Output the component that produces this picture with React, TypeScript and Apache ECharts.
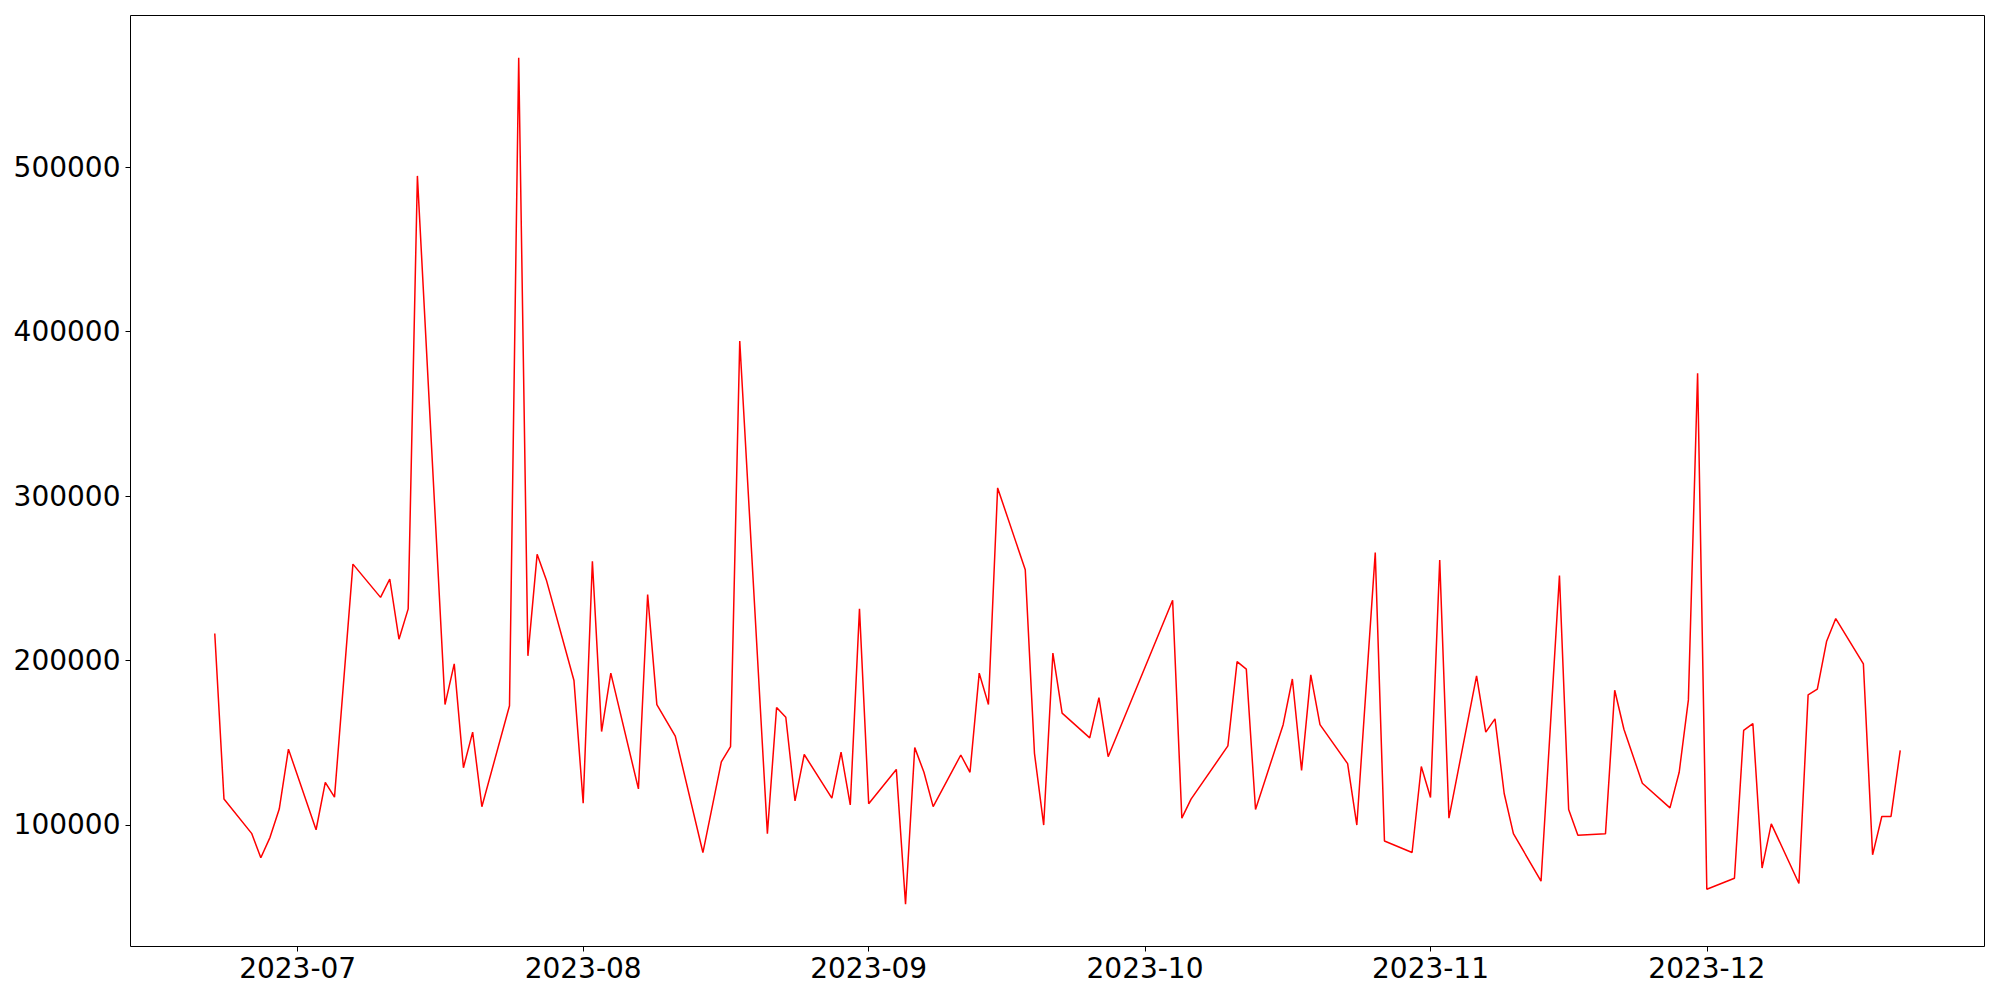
import React, { useEffect, useRef } from "react";
import * as echarts from "echarts";

const dates: string[] = [
  "2023-06-22", "2023-06-23", "2023-06-26", "2023-06-27", "2023-06-28", "2023-06-29", "2023-06-30",
  "2023-07-03", "2023-07-04", "2023-07-05", "2023-07-07",
  "2023-07-10", "2023-07-11", "2023-07-12", "2023-07-13", "2023-07-14",
  "2023-07-17", "2023-07-18", "2023-07-19", "2023-07-20", "2023-07-21",
  "2023-07-24", "2023-07-25", "2023-07-26", "2023-07-27", "2023-07-28",
  "2023-07-31", "2023-08-01", "2023-08-02", "2023-08-03", "2023-08-04",
  "2023-08-07", "2023-08-08", "2023-08-09", "2023-08-11",
  "2023-08-14", "2023-08-16", "2023-08-17", "2023-08-18",
  "2023-08-21", "2023-08-22", "2023-08-23", "2023-08-24", "2023-08-25",
  "2023-08-28", "2023-08-29", "2023-08-30", "2023-08-31", "2023-09-01",
  "2023-09-04", "2023-09-05", "2023-09-06", "2023-09-07", "2023-09-08",
  "2023-09-11", "2023-09-12", "2023-09-13", "2023-09-14", "2023-09-15",
  "2023-09-18", "2023-09-19", "2023-09-20", "2023-09-21", "2023-09-22",
  "2023-09-25", "2023-09-26", "2023-09-27",
  "2023-10-04", "2023-10-05", "2023-10-06",
  "2023-10-10", "2023-10-11", "2023-10-12", "2023-10-13",
  "2023-10-16", "2023-10-17", "2023-10-18", "2023-10-19", "2023-10-20",
  "2023-10-23", "2023-10-24", "2023-10-26", "2023-10-27",
  "2023-10-30", "2023-10-31", "2023-11-01", "2023-11-02", "2023-11-03",
  "2023-11-06", "2023-11-07", "2023-11-08", "2023-11-09", "2023-11-10",
  "2023-11-13", "2023-11-15", "2023-11-16", "2023-11-17",
  "2023-11-20", "2023-11-21", "2023-11-22", "2023-11-24",
  "2023-11-27", "2023-11-28", "2023-11-29", "2023-11-30", "2023-12-01",
  "2023-12-04", "2023-12-05", "2023-12-06", "2023-12-07", "2023-12-08",
  "2023-12-11", "2023-12-12", "2023-12-13", "2023-12-14", "2023-12-15",
  "2023-12-18", "2023-12-19", "2023-12-20", "2023-12-21", "2023-12-22",
];

const values: number[] = [
  216350, 115620, 94770, 79940, 92340, 109540, 146020,
  96960, 125770, 116840, 258600,
  238360, 249540, 212890, 231370, 494830,
  173130, 197870, 134710, 156350, 111000,
  172400, 566680, 202800, 264560, 248990,
  187780, 113070, 260360, 156720, 192280,
  121820, 240120, 173130, 153920,
  83100, 138240, 147540, 394340,
  94590, 171370, 165410, 114470, 142740,
  116230, 144130, 112040, 231370, 112770,
  133680, 51670, 146930, 131920, 111000,
  142440, 131920, 192280, 173130, 304980,
  255130, 143460, 99820, 204500, 167900,
  152890, 177320, 141400,
  236600, 104010, 115560,
  147970, 199270, 194710, 109240,
  160910, 188700, 133010, 191220, 160910,
  137200, 99820, 265590, 90090,
  83100, 135440, 116600, 261080, 104010,
  190570, 156350, 164440, 119030, 94590,
  65650, 251610, 109240, 93560,
  94590, 181820, 158120, 125290,
  110280, 131920, 175980, 374770, 60790,
  67420, 157390, 161580, 73650, 100550,
  64280, 179030, 182550, 211490, 225470,
  197870, 81700, 105050, 105050, 145230,
];

const xTickDates: string[] = ["2023-07-01", "2023-08-01", "2023-09-01", "2023-10-01", "2023-11-01", "2023-12-01"];
const yTickValues: number[] = [100000, 200000, 300000, 400000, 500000];

const toTs = (s: string) => {
  const [y, m, d] = s.split("-").map(Number);
  return Date.UTC(y, m - 1, d);
};

export default function App() {
  const ref = useRef<HTMLDivElement>(null);
  useEffect(() => {
    document.body.style.margin = "0";
    if (!ref.current) return;
    const chart = echarts.init(ref.current, null, { renderer: "svg" });
    const first = toTs(dates[0]);
    const last = toTs(dates[dates.length - 1]);
    const xPad = (last - first) * 0.05;
    const vMin = Math.min(...values);
    const vMax = Math.max(...values);
    const yPad = (vMax - vMin) * 0.05;
    const xTicks = xTickDates.map(toTs);
    const font = "DejaVu Sans";
    chart.setOption({
      animation: false,
      backgroundColor: "#ffffff",
      grid: {
        left: 130.5,
        right: 15.5,
        top: 15.5,
        bottom: 53.5,
        show: true,
        borderColor: "#000000",
        borderWidth: 1,
        backgroundColor: "transparent",
        containLabel: false,
      },
      xAxis: {
        type: "value",
        min: first - xPad,
        max: last + xPad,
        axisLine: { show: false },
        splitLine: { show: false },
        axisTick: {
          show: true,
          length: 5,
          customValues: xTicks,
          lineStyle: { color: "#000000", width: 1 },
        },
        axisLabel: {
          customValues: xTicks,
          color: "#000000",
          fontFamily: font,
          fontSize: 28,
          margin: 8,
          hideOverlap: false,
          showMinLabel: true,
          showMaxLabel: true,
          formatter: (v: number) => {
            const d = new Date(v);
            const m = d.getUTCMonth() + 1;
            return `${d.getUTCFullYear()}-${m < 10 ? "0" + m : m}`;
          },
        },
      },
      yAxis: {
        type: "value",
        min: vMin - yPad,
        max: vMax + yPad,
        axisLine: { show: false },
        splitLine: { show: false },
        axisTick: {
          show: true,
          length: 5,
          customValues: yTickValues,
          lineStyle: { color: "#000000", width: 1 },
        },
        axisLabel: {
          customValues: yTickValues,
          color: "#000000",
          fontFamily: font,
          fontSize: 28,
          margin: 10,
          showMinLabel: true,
          showMaxLabel: true,
          formatter: (v: number) => String(v),
        },
      },
      series: [
        {
          type: "line",
          data: dates.map((d, i) => [toTs(d), values[i]]),
          showSymbol: false,
          symbol: "none",
          lineStyle: { color: "#ff0000", width: 1.5 },
          itemStyle: { color: "#ff0000" },
        },
      ],
    });
    return () => chart.dispose();
  }, []);
  return <div ref={ref} style={{ width: 2000, height: 1000 }} />;
}
